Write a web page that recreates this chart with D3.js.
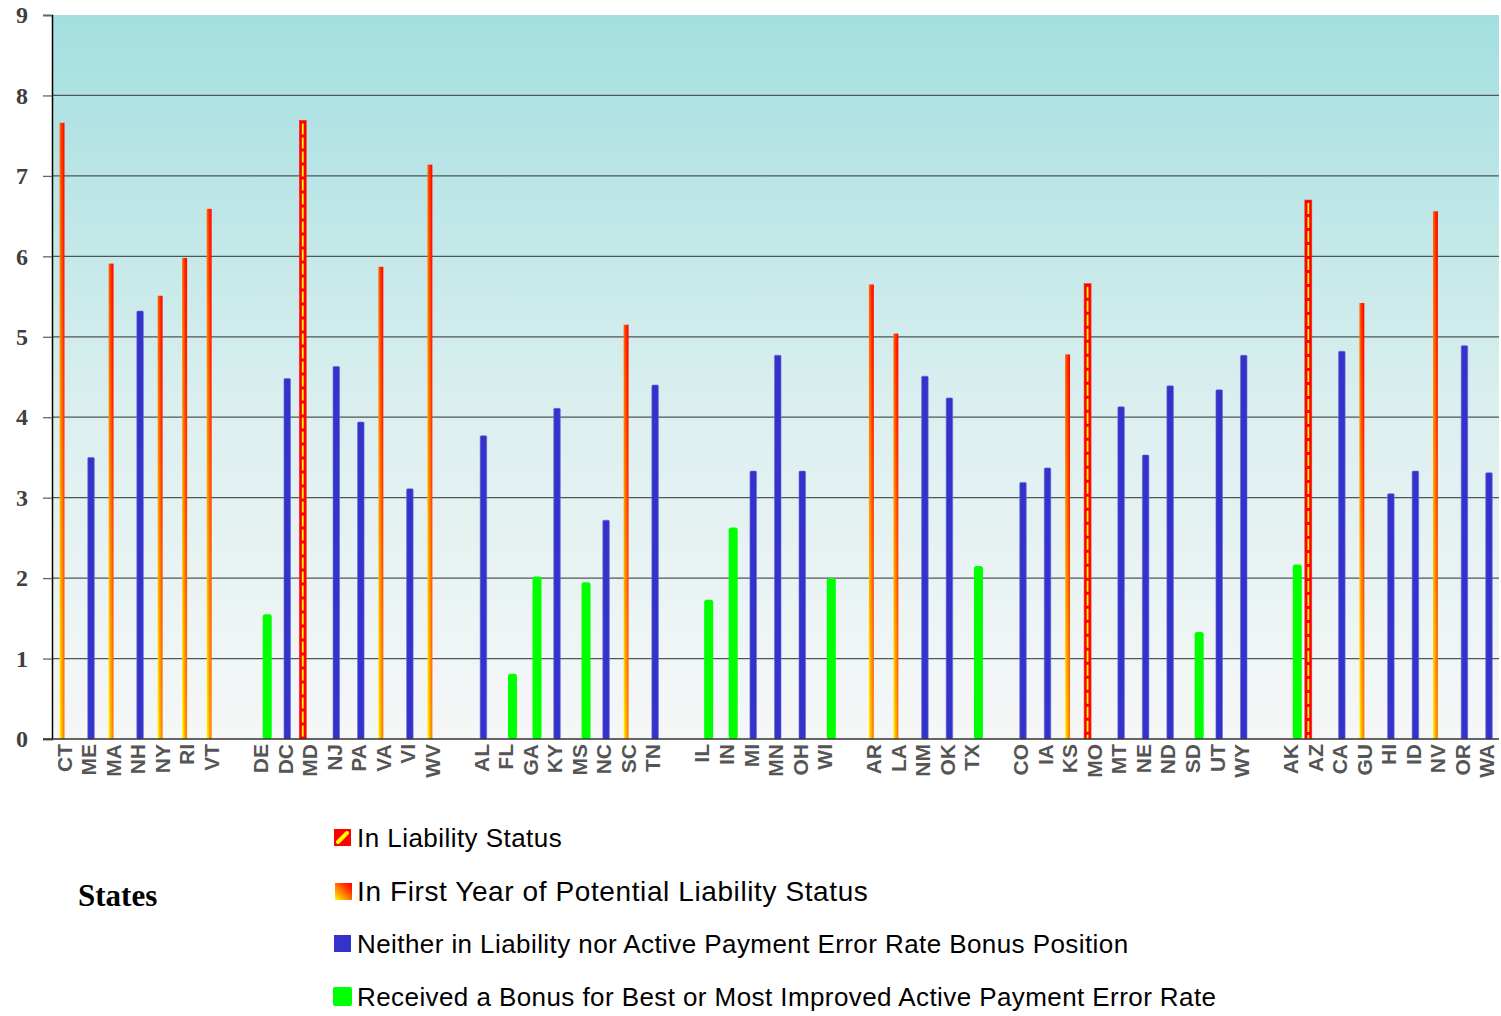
<!DOCTYPE html>
<html>
<head>
<meta charset="utf-8">
<script src="https://cdn.jsdelivr.net/npm/d3@7"></script>
<style>
  html, body { margin: 0; padding: 0; background: #ffffff; }
  svg { display: block; }
</style>
</head>
<body>
<svg id="chart" width="1501" height="1016"></svg>
<script>
// States grouped by FNS region; a blank slot separates consecutive regions.
const regions = [
  ["CT", "ME", "MA", "NH", "NY", "RI", "VT"],
  ["DE", "DC", "MD", "NJ", "PA", "VA", "VI", "WV"],
  ["AL", "FL", "GA", "KY", "MS", "NC", "SC", "TN"],
  ["IL", "IN", "MI", "MN", "OH", "WI"],
  ["AR", "LA", "NM", "OK", "TX"],
  ["CO", "IA", "KS", "MO", "MT", "NE", "ND", "SD", "UT", "WY"],
  ["AK", "AZ", "CA", "GU", "HI", "ID", "NV", "OR", "WA"]
];

// Payment error rate (%) per state, in the same order as the regions above.
const errorRates = [
  7.66, 3.50, 5.91, 5.32, 5.51, 5.98, 6.59,
  1.55, 4.48, 7.69, 4.63, 3.94, 5.87, 3.11, 7.14,
  3.77, 0.81, 2.02, 4.11, 1.95, 2.72, 5.15, 4.40,
  1.73, 2.63, 3.33, 4.77, 3.33, 2.00,
  5.65, 5.04, 4.51, 4.24, 2.15,
  3.19, 3.37, 4.78, 5.66, 4.13, 3.53, 4.39, 1.33, 4.34, 4.77,
  2.17, 6.70, 4.82, 5.42, 3.05, 3.33, 6.56, 4.89, 3.31
];

// Status of each state: L = liability, F = first year of potential liability,
// N = neither, B = bonus received.
const status = [
  "F", "N", "F", "N", "F", "F", "F",
  "B", "N", "L", "N", "N", "F", "N", "F",
  "N", "B", "B", "N", "B", "N", "F", "N",
  "B", "B", "N", "N", "N", "B",
  "F", "F", "N", "N", "B",
  "N", "N", "F", "L", "N", "N", "N", "B", "N", "N",
  "B", "L", "N", "F", "N", "N", "F", "N", "N"
];

const seriesKeys = ["L", "F", "N", "B"];
const seriesLabels = [
  "In Liability Status",
  "In First Year of Potential Liability Status",
  "Neither in Liability nor Active Payment Error Rate Bonus Position",
  "Received a Bonus for Best or Most Improved Active Payment Error Rate"
];
const yTicks = [0, 1, 2, 3, 4, 5, 6, 7, 8, 9];

// ---- layout ----
const plot = { left: 52, right: 1499, top: 15, bottom: 739 };
const svg = d3.select("#chart");

// Category slots, with an empty slot between regions
const slots = [];
regions.forEach((r, i) => {
  if (i > 0) slots.push("gap" + i);
  r.forEach(s => slots.push(s));
});
const states = regions.flat();
const records = states.map((s, i) => ({ state: s, value: errorRates[i], status: status[i] }));

const x = d3.scaleBand().domain(slots).range([plot.left, plot.right])
  .paddingInner(0.266).paddingOuter(0.133);
const x1 = d3.scaleBand().domain(seriesKeys).range([0, x.bandwidth()]);
const y = d3.scaleLinear().domain([0, 9]).range([plot.bottom, plot.top]);

// ---- gradients ----
const defs = svg.append("defs");
const bg = defs.append("linearGradient").attr("id", "plotBg")
  .attr("x1", 0).attr("y1", 0).attr("x2", 0).attr("y2", 1);
bg.append("stop").attr("offset", "0%").attr("stop-color", "#a3dfe0");
bg.append("stop").attr("offset", "55%").attr("stop-color", "#dcefef");
bg.append("stop").attr("offset", "100%").attr("stop-color", "#f6f7f7");

const fy = defs.append("linearGradient").attr("id", "firstYear")
  .attr("x1", 0).attr("y1", 1).attr("x2", 1).attr("y2", 0);
fy.append("stop").attr("offset", "0%").attr("stop-color", "#ffff00");
fy.append("stop").attr("offset", "25%").attr("stop-color", "#ffb000");
fy.append("stop").attr("offset", "50%").attr("stop-color", "#ff7000");
fy.append("stop").attr("offset", "75%").attr("stop-color", "#ff2a00");
fy.append("stop").attr("offset", "100%").attr("stop-color", "#ff0000");

// ---- plot background ----
svg.append("rect")
  .attr("x", plot.left).attr("y", plot.top)
  .attr("width", plot.right - plot.left).attr("height", plot.bottom - plot.top)
  .attr("fill", "url(#plotBg)");

// ---- grid lines ----
svg.append("g").selectAll("line")
  .data(yTicks.filter(t => t > 0 && t < 9))
  .join("line")
  .attr("x1", plot.left).attr("x2", plot.right)
  .attr("y1", d => y(d)).attr("y2", d => y(d))
  .attr("stroke", "#505555").attr("stroke-width", 1.3);

// ---- y axis ----
const yAxis = svg.append("g")
  .attr("transform", `translate(${plot.left},0)`)
  .call(d3.axisLeft(y).tickValues(yTicks).tickSize(9).tickPadding(15).tickFormat(d3.format("d")));
yAxis.select(".domain").attr("stroke", "#000").attr("stroke-width", 1.5);
yAxis.selectAll(".tick line").attr("stroke", "#666").attr("stroke-width", 1.3);
yAxis.selectAll(".tick text")
  .attr("font-family", "'Liberation Serif', 'Times New Roman', serif")
  .attr("font-weight", "bold").attr("font-size", 24).attr("fill", "#404040");

// ---- bars ----
const widthFactor = { L: 1.55, F: 1.1, N: 1.45, B: 2.0 };
const fillFor = { L: "#ff0000", F: "url(#firstYear)", N: "#3333cc", B: "#00ff00" };
const barCx = d => x(d.state) + x1(d.status) + x1.bandwidth() / 2;
const barW = d => x1.bandwidth() * widthFactor[d.status];

const bars = svg.append("g");
bars.selectAll("rect")
  .data(records)
  .join("rect")
  .attr("x", d => barCx(d) - barW(d) / 2)
  .attr("y", d => y(d.value))
  .attr("width", barW)
  .attr("height", d => y(0) - y(d.value))
  .attr("rx", d => d.status === "B" ? 2.5 : (d.status === "N" ? 1 : 0))
  .attr("fill", d => fillFor[d.status])
  .attr("stroke", d => d.status === "N" ? "#6a6ad8" : (d.status === "L" ? "#f03030" : "none"))
  .attr("stroke-width", 0.6);

// dashed yellow centre line on liability bars
bars.selectAll("line.dash")
  .data(records.filter(d => d.status === "L"))
  .join("line")
  .attr("class", "dash")
  .attr("x1", barCx).attr("x2", barCx)
  .attr("y1", d => y(d.value) + 3).attr("y2", y(0))
  .attr("stroke", "#ffff00").attr("stroke-width", 1.8)
  .attr("stroke-dasharray", "11,3");

// ---- baseline ----
svg.append("line")
  .attr("x1", plot.left - 9).attr("x2", plot.right)
  .attr("y1", y(0)).attr("y2", y(0))
  .attr("stroke", "#333").attr("stroke-width", 1.5);

// ---- x axis labels ----
const xAxis = svg.append("g")
  .attr("transform", `translate(0,${plot.bottom})`)
  .call(d3.axisBottom(x).tickSize(0).tickFormat(d => d.startsWith("gap") ? "" : d));
xAxis.select(".domain").remove();
xAxis.selectAll(".tick text")
  .attr("font-family", "'Liberation Sans', Arial, sans-serif")
  .attr("font-weight", "bold").attr("font-size", 21).attr("fill", "#555")
  .attr("text-anchor", "end")
  .attr("transform", "translate(0,5) rotate(-90)")
  .attr("x", 0).attr("y", 0).attr("dy", "0.36em");

// ---- axis title ----
svg.append("text")
  .attr("x", 78).attr("y", 906)
  .attr("font-family", "'Liberation Serif', 'Times New Roman', serif")
  .attr("font-weight", "bold").attr("font-size", 31).attr("fill", "#000")
  .text("States");

// ---- legend ----
const legendRows = [
  { key: "L", baseline: 847, size: 26, spacing: 0.45 },
  { key: "F", baseline: 901, size: 28, spacing: 0.6 },
  { key: "N", baseline: 953, size: 26, spacing: 0.42 },
  { key: "B", baseline: 1006, size: 26, spacing: 0.42 }
];
const legend = svg.append("g");
legendRows.forEach((r, i) => {
  const g = legend.append("g");
  const top = r.baseline - 18;
  if (r.key === "L") {
    g.append("rect").attr("x", 334).attr("y", top).attr("width", 17).attr("height", 17)
      .attr("fill", "#ff0000");
    g.append("line").attr("x1", 338).attr("y1", top + 13).attr("x2", 347).attr("y2", top + 4)
      .attr("stroke", "#ffff00").attr("stroke-width", 4).attr("stroke-linecap", "round");
  } else if (r.key === "F") {
    g.append("rect").attr("x", 335).attr("y", top).attr("width", 17).attr("height", 17)
      .attr("fill", "url(#firstYear)");
  } else if (r.key === "N") {
    g.append("rect").attr("x", 334).attr("y", top).attr("width", 17).attr("height", 17)
      .attr("fill", "#3333cc");
  } else {
    g.append("rect").attr("x", 333).attr("y", top - 1).attr("width", 19).attr("height", 19)
      .attr("rx", 2).attr("fill", "#00ff00");
  }
  g.append("text")
    .attr("x", 357).attr("y", r.baseline)
    .attr("font-family", "'Liberation Sans', Arial, sans-serif")
    .attr("font-size", r.size).attr("letter-spacing", r.spacing).attr("fill", "#000")
    .text(seriesLabels[i]);
});
</script>
</body>
</html>
